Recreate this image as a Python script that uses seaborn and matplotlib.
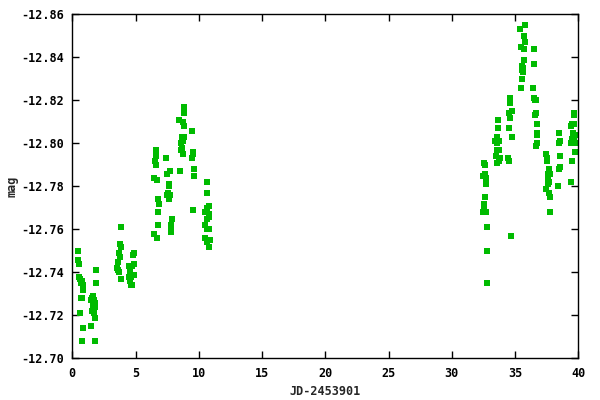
# Krzywa blasku: mag vs JD-2453901
import numpy as np
import pandas as pd
import matplotlib
matplotlib.use("Agg")
import matplotlib.pyplot as plt
import seaborn as sns

# --- dane: pierwsza seria obserwacji (dni 0-11) ---
jd_run1 = [0.47, 0.45, 0.55, 0.55, 0.61, 0.77, 0.66, 0.82, 0.87, 0.71, 0.79, 0.63, 0.87, 0.79,
           1.90, 1.90, 1.66, 1.58, 1.50, 1.72, 1.79, 1.64, 1.82, 1.58, 1.66, 1.74, 1.82, 1.50, 1.82,
           3.87, 3.77, 3.85, 3.67, 3.75, 3.59, 3.51, 3.59, 3.69, 3.87,
           4.90, 4.82, 4.70, 4.90, 4.54, 4.48, 4.66, 4.85, 4.54, 4.64, 4.74, 4.50,
           6.64, 6.64, 6.56, 6.64, 6.48, 6.72, 6.80, 6.88, 6.80, 6.80, 6.48, 6.72,
           7.43, 7.75, 7.51, 7.67, 7.67, 7.59, 7.51, 7.75, 7.67, 7.91, 7.83, 7.83, 7.83,
           8.85, 8.85, 8.46, 8.77, 8.85, 9.49, 8.65, 8.85, 8.57, 8.77, 8.70, 8.62, 8.77,
           9.57, 9.52, 9.49, 8.54, 9.64, 9.64, 9.57,
           10.67, 10.67, 10.83, 10.67, 10.51, 10.83, 10.83, 10.67, 10.51, 10.67, 10.78,
           10.51, 10.62, 10.91, 10.83]
mag_run1 = [-12.750, -12.746, -12.744, -12.738, -12.737, -12.736, -12.735, -12.734, -12.732,
            -12.728, -12.728, -12.721, -12.714, -12.708,
            -12.741, -12.735, -12.729, -12.728, -12.727, -12.727, -12.726, -12.725, -12.724,
            -12.722, -12.722, -12.721, -12.719, -12.715, -12.708,
            -12.761, -12.753, -12.752, -12.749, -12.747, -12.745, -12.742, -12.741, -12.740, -12.737,
            -12.749, -12.748, -12.743, -12.744, -12.740, -12.738, -12.738, -12.739, -12.736,
            -12.734, -12.734, -12.743,
            -12.797, -12.794, -12.792, -12.790, -12.784, -12.783, -12.774, -12.772, -12.768,
            -12.762, -12.758, -12.756,
            -12.793, -12.787, -12.786, -12.781, -12.780, -12.777, -12.776, -12.776, -12.774,
            -12.765, -12.762, -12.760, -12.759,
            -12.817, -12.814, -12.811, -12.810, -12.808, -12.806, -12.803, -12.803, -12.800,
            -12.801, -12.798, -12.797, -12.795,
            -12.796, -12.795, -12.793, -12.787, -12.788, -12.785, -12.769,
            -12.782, -12.777, -12.771, -12.770, -12.768, -12.767, -12.766, -12.765, -12.762,
            -12.760, -12.760, -12.756, -12.754, -12.755, -12.752]

# --- dane: druga seria obserwacji (dni 32-40) ---
jd_run2 = [32.57, 32.65, 32.49, 32.65, 32.73, 32.73, 32.65, 32.57, 32.57, 32.49, 32.73, 32.81,
           32.81, 32.81,
           33.68, 33.68, 33.60, 33.44, 33.60, 33.75, 33.60, 33.75, 33.52, 33.83, 33.75, 33.60,
           34.62, 34.62, 34.78, 34.55, 34.62, 34.55, 34.78, 34.47, 34.55, 34.70,
           35.81, 35.42, 35.73, 35.81, 35.49, 35.73, 35.73, 35.57, 35.65, 35.57, 35.65, 35.57, 35.49,
           36.52, 36.52, 36.44, 36.52, 36.60, 36.68, 36.68, 36.60, 36.76, 36.76, 36.76, 36.76, 36.68,
           37.47, 37.55, 37.55, 37.71, 37.63, 37.79, 37.63, 37.71, 37.63, 37.47, 37.71, 37.79, 37.79,
           38.50, 38.58, 38.50, 38.58, 38.58, 38.50, 38.42,
           39.68, 39.68, 39.53, 39.45, 39.68, 39.60, 39.76, 39.53, 39.68, 39.45, 39.60, 39.76,
           39.76, 39.53, 39.45]
mag_run2 = [-12.791, -12.790, -12.785, -12.786, -12.784, -12.781, -12.775, -12.772, -12.771,
            -12.768, -12.768, -12.761, -12.750, -12.735,
            -12.811, -12.807, -12.803, -12.801, -12.800, -12.801, -12.797, -12.797, -12.794,
            -12.793, -12.792, -12.791,
            -12.821, -12.819, -12.815, -12.814, -12.812, -12.807, -12.803, -12.793, -12.792, -12.757,
            -12.855, -12.853, -12.850, -12.847, -12.845, -12.844, -12.839, -12.836, -12.835,
            -12.834, -12.833, -12.830, -12.826,
            -12.844, -12.837, -12.826, -12.821, -12.820, -12.820, -12.814, -12.813, -12.809,
            -12.805, -12.804, -12.800, -12.799,
            -12.795, -12.793, -12.792, -12.788, -12.786, -12.786, -12.783, -12.782, -12.781,
            -12.779, -12.777, -12.775, -12.768,
            -12.805, -12.801, -12.800, -12.794, -12.789, -12.788, -12.780,
            -12.814, -12.813, -12.809, -12.808, -12.809, -12.805, -12.804, -12.802, -12.802,
            -12.800, -12.800, -12.800, -12.796, -12.792, -12.782]

x_ticks = [0, 5, 10, 15, 20, 25, 30, 35, 40]
y_ticks = [-12.86, -12.84, -12.82, -12.80, -12.78, -12.76, -12.74, -12.72, -12.70]

df = pd.DataFrame({"jd": jd_run1 + jd_run2, "mag": mag_run1 + mag_run2})

# --- styl w stylu gnuplota ---
sns.set_style("ticks")
plt.rcParams["font.family"] = ["DejaVu Sans Mono"]
plt.rcParams["font.weight"] = "bold"
plt.rcParams["axes.unicode_minus"] = False

fig = plt.figure(figsize=(6, 4), dpi=100)
ax = fig.add_axes([0.1205, 0.104, 0.8433, 0.860])

sns.scatterplot(data=df, x="jd", y="mag", marker="s", s=16, color="#00bb00",
                linewidth=0, ax=ax, legend=False)

ax.set_xlim(0, 40)
ax.set_ylim(-12.70, -12.86)
ax.set_xticks(x_ticks)
ax.set_xticklabels([str(t) for t in x_ticks])
ax.set_yticks(y_ticks)
ax.set_yticklabels([f"{v:.2f}" for v in y_ticks])
ax.tick_params(direction="in", length=5, width=1, top=True, right=True,
               labelsize=8.5, pad=6, colors="black")
for sp in ax.spines.values():
    sp.set_visible(True)
    sp.set_linewidth(1)
    sp.set_color("black")

ax.set_xlabel("JD-2453901", fontsize=8.5, fontweight="bold", labelpad=4)
ax.set_ylabel("mag", fontsize=8.5, fontweight="bold", labelpad=2)

fig.savefig("out.png", dpi=100, facecolor="white")
